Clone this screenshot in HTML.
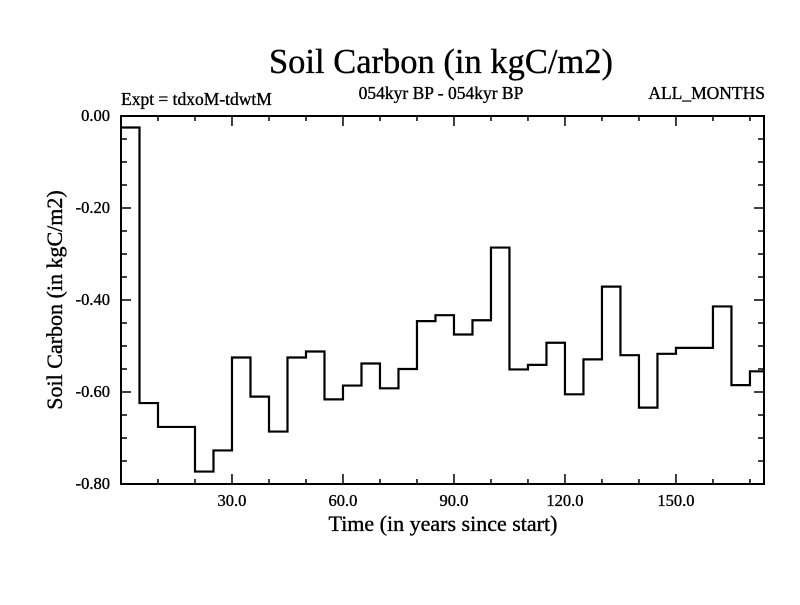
<!DOCTYPE html>
<html><head><meta charset="utf-8"><style>
body{margin:0;background:#fff}
svg text{font-family:"Liberation Serif",serif;fill:#000;stroke:#000;stroke-width:0.35}
</style></head><body>
<svg id="c" width="800" height="600" xmlns="http://www.w3.org/2000/svg">
<text x="441" y="73" font-size="34.5" text-anchor="middle">Soil Carbon (in kgC/m2)</text>
<text x="121" y="105" font-size="17.5">Expt = tdxoM-tdwtM</text>
<text x="441" y="99" font-size="17.5" text-anchor="middle">054kyr BP - 054kyr BP</text>
<text x="765" y="99" font-size="17.5" text-anchor="end">ALL_MONTHS</text>
<text x="443" y="531" font-size="22" text-anchor="middle">Time (in years since start)</text>
<text transform="translate(62,300) rotate(-90)" font-size="22" text-anchor="middle">Soil Carbon (in kgC/m2)</text>
<g id="ax"></g>
<path id="line" fill="none" stroke="#000" stroke-width="2.2"/>
<rect x="121" y="116" width="643" height="368" fill="none" stroke="#000" stroke-width="2"/>
</svg>
<script>
const binStarts=[0,5,10,15,20,25,30,35,40,45,50,55,60,65,70,75,80,85,90,95,100,105,110,115,120,125,130,135,140,145,150,155,160,165,170];
const values=[-0.025,-0.624,-0.676,-0.676,-0.773,-0.727,-0.525,-0.610,-0.686,-0.525,-0.512,-0.616,-0.586,-0.538,-0.592,-0.550,-0.446,-0.433,-0.475,-0.444,-0.286,-0.551,-0.541,-0.493,-0.605,-0.529,-0.371,-0.520,-0.634,-0.517,-0.504,-0.504,-0.414,-0.585,-0.555];
const xTicks=[30,60,90,120,150];
const xTickLabels=["30.0","60.0","90.0","120.0","150.0"];
const yTicks=[0,-0.2,-0.4,-0.6,-0.8];
const yTickLabels=["0.00","-0.20","-0.40","-0.60","-0.80"];
const binWidth=5, xMax=173.8;
const X0=121,X1=764,Y0=116,Y1=484;
const sx=v=>X0+(v/xMax)*(X1-X0);
const sy=v=>Y0+(-v/0.8)*(Y1-Y0);
const NS="http://www.w3.org/2000/svg";
const ax=document.getElementById('ax');
function ln(x1,y1,x2,y2,name){const l=document.createElementNS(NS,'line');
l.setAttribute('x1',x1);l.setAttribute('y1',y1);l.setAttribute('x2',x2);l.setAttribute('y2',y2);
l.setAttribute('stroke','#000');l.setAttribute('stroke-width','1.5');


ax.appendChild(l);}
function tx(x,y,s,anchor,name){const t=document.createElementNS(NS,'text');
t.setAttribute('x',x);t.setAttribute('y',y);t.setAttribute('font-size','16.5');t.setAttribute('text-anchor',anchor);t.textContent=s;


ax.appendChild(t);}
for(let v=10;v<xMax;v+=10){const major=v%30===0;const L=major?10:5;const x=sx(v);
ln(x,Y1,x,Y1-L,'x-tick');ln(x,Y0,x,Y0+L,'x-tick-top');}
for(let k=1;k<16;k++){const v=-0.05*k;const major=k%4===0;const L=major?10:6;const y=sy(v);
ln(X0,y,X0+L,y,'y-tick');ln(X1,y,X1-L,y,'y-tick-right');}
xTicks.forEach((v,i)=>tx(sx(v),506,xTickLabels[i],'middle','x-tick-label'));
yTicks.forEach((v,i)=>tx(110,sy(v)+5,yTickLabels[i],'end','y-tick-label'));
let d='';
values.forEach((v,i)=>{const xa=sx(binStarts[i]);const xb=sx(Math.min(binStarts[i]+binWidth,xMax));const y=sy(v);
d+=(i===0?'M':'L')+xa+' '+y+' L'+xb+' '+y+' ';});
document.getElementById('line').setAttribute('d',d);
</script>
</body></html>
